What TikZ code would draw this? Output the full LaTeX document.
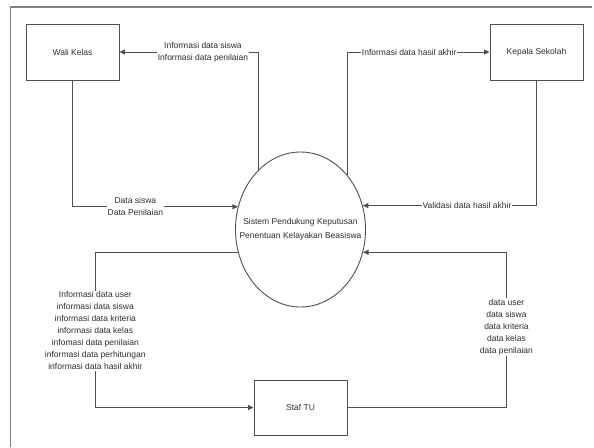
\documentclass[tikz,border=0pt]{standalone}
\usepackage{fontspec}
\setmainfont{Liberation Sans}
\usetikzlibrary{shapes.geometric,arrows.meta}

\definecolor{linec}{RGB}{80,80,80}
\definecolor{framec}{RGB}{130,130,130}
\definecolor{txtc}{RGB}{45,45,45}

\begin{document}
\begin{tikzpicture}[x=1pt,y=-1pt,
  entity/.style={draw=linec, line width=0.9pt, minimum width=93pt, minimum height=56pt,
    inner sep=0pt, font=\fontsize{8.5}{12}\selectfont, text=txtc},
  process/.style={ellipse, draw=linec, line width=0.9pt, minimum width=130pt,
    minimum height=155pt, inner sep=0pt},
  flow/.style={draw=linec, line width=0.9pt, -{Triangle[length=5.5pt,width=5pt]}},
  flowlabel/.style={fill=white, inner sep=1pt, align=center,
    font=\fontsize{8.5}{12}\selectfont, text=txtc},
]
\useasboundingbox (0,0) rectangle (594,447);

% page frame (top and left edges)
\draw[draw=framec, line width=1.2pt] (10.5,447) -- (10.5,7) -- (592,7);

% external entities
\node[entity] (wk) at (72.5,52) {Wali Kelas};
\node[entity] (ks) at (536.5,52) {Kepala Sekolah};
\node[entity, minimum height=55pt] (staf) at (300.5,407.5) {Staf TU};

% central process
\node[process] (sys) at (300.5,229.5) {};
\node[align=center, inner sep=0pt, font=\fontsize{8.5}{14}\selectfont, text=txtc]
  (systext) at (sys.center) {Sistem Pendukung Keputusan\\Penentuan Kelayakan Beasiswa};

% data flows
\draw[flow] (sys.125.9) |- node[flowlabel, pos=0.70]
  {Informasi data siswa\\Informasi data penilaian} (wk.east);
\draw[flow] (wk.south) |- node[flowlabel, pos=0.69]
  {Data siswa\\Data Penilaian} (sys.160.1);
\draw[flow] (sys.49.4) |- node[flowlabel, pos=0.717]
  {Informasi data hasil akhir} (ks.west);
\draw[flow] (ks.south) |- node[flowlabel, pos=0.70]
  {Validasi data hasil akhir} (sys.21.7);
\draw[flow] (sys.200.8) -- ++(-142.6,0) |- node[flowlabel, pos=0.2525]
  {Informasi data user\\informasi data siswa\\informasi data kriteria\\informasi data kelas\\infomasi data penilaian\\informasi data perhitungan\\informasi data hasil akhir} (staf.west);
\draw[flow] (staf.east) -- ++(159,0) |- node[flowlabel, pos=0.259]
  {data user\\data siswa\\data kriteria\\data kelas\\data penilaian} (sys.340.1);
\end{tikzpicture}
\end{document}
